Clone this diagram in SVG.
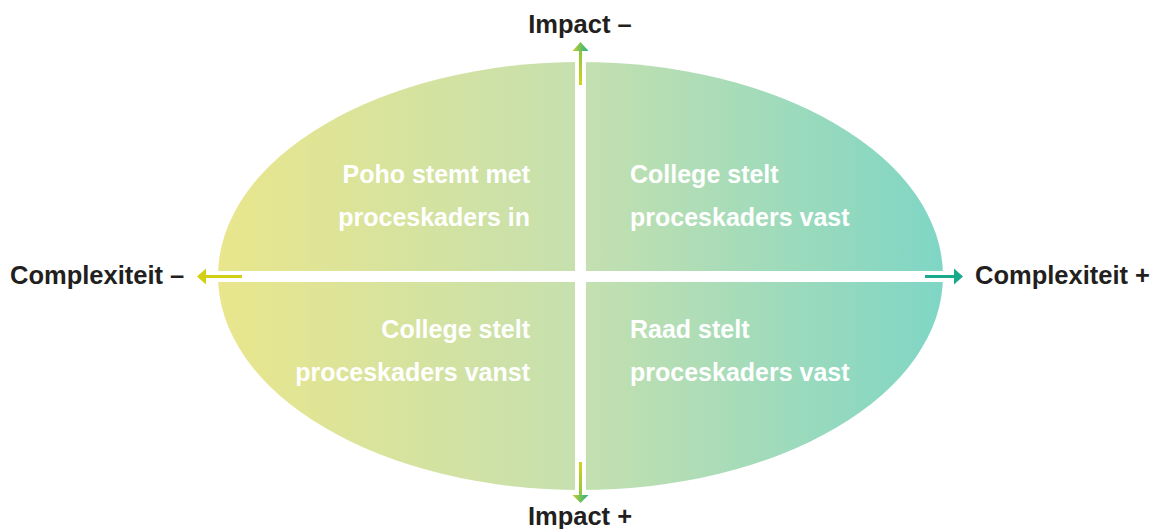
<svg xmlns="http://www.w3.org/2000/svg" width="1154" height="529" viewBox="0 0 1154 529">
<style>
.lbl{font-family:"Liberation Sans",Arial,sans-serif;font-weight:bold;font-size:25.5px;fill:#231f20}
.q{font-family:"Liberation Sans",Arial,sans-serif;font-weight:bold;font-size:25px;fill:#ffffff}
</style>
<defs>
<linearGradient id="bg" x1="218" y1="0" x2="943" y2="0" gradientUnits="userSpaceOnUse">
<stop offset="0" stop-color="#e9e68c"/>
<stop offset="0.5" stop-color="#c5e0af"/>
<stop offset="1" stop-color="#7fd6c5"/>
</linearGradient>
<linearGradient id="vs" x1="0" y1="0" x2="0" y2="1">
<stop offset="0" stop-color="#8cc63f"/>
<stop offset="1" stop-color="#d4d11c"/>
</linearGradient>
<linearGradient id="vs2" x1="0" y1="0" x2="0" y2="1">
<stop offset="0" stop-color="#d4d11c"/>
<stop offset="1" stop-color="#8cc63f"/>
</linearGradient>
<linearGradient id="hd" x1="0" y1="0" x2="1" y2="0">
<stop offset="0" stop-color="#c8cf2a"/>
<stop offset="1" stop-color="#22b28a"/>
</linearGradient>
</defs>
<g id="ellipse">
<ellipse cx="580.5" cy="276" rx="362.5" ry="214" fill="url(#bg)"/>
<rect x="575" y="55" width="11" height="440" fill="#ffffff"/>
<rect x="210" y="271" width="740" height="11" fill="#ffffff"/>
</g>
<g id="connectors">
<rect x="579" y="51" width="3" height="34" fill="url(#vs)"/>
<polygon points="572.5,51 588.5,51 580.5,42" fill="url(#hd)"/>
<rect x="579" y="462" width="3" height="34" fill="url(#vs2)"/>
<polygon points="572.5,495 588.5,495 580.5,503" fill="url(#hd)"/>
<rect x="204" y="275" width="38" height="3" fill="#d2cf14"/>
<polygon points="206,268.5 206,284.5 197,276.5" fill="#d2cf14"/>
<rect x="925" y="275" width="30" height="3" fill="#1aa98a"/>
<polygon points="954,268.5 954,284.5 963,276.5" fill="#1aa98a"/>
</g>
<g id="axis-labels">
<text class="lbl" x="580" y="33" text-anchor="middle">Impact –</text>
<text class="lbl" x="580" y="525" text-anchor="middle">Impact +</text>
<text class="lbl" x="10" y="284">Complexiteit –</text>
<text class="lbl" x="975" y="284">Complexiteit +</text>
</g>
<g id="q1">
<text class="q" x="530" y="183" text-anchor="end">Poho stemt met</text>
<text class="q" x="530" y="226" text-anchor="end">proceskaders in</text>
</g>
<g id="q2">
<text class="q" x="630" y="183">College stelt</text>
<text class="q" x="630" y="226">proceskaders vast</text>
</g>
<g id="q3">
<text class="q" x="530" y="338" text-anchor="end">College stelt</text>
<text class="q" x="530" y="381" text-anchor="end">proceskaders vanst</text>
</g>
<g id="q4">
<text class="q" x="630" y="338">Raad stelt</text>
<text class="q" x="630" y="381">proceskaders vast</text>
</g>
</svg>
